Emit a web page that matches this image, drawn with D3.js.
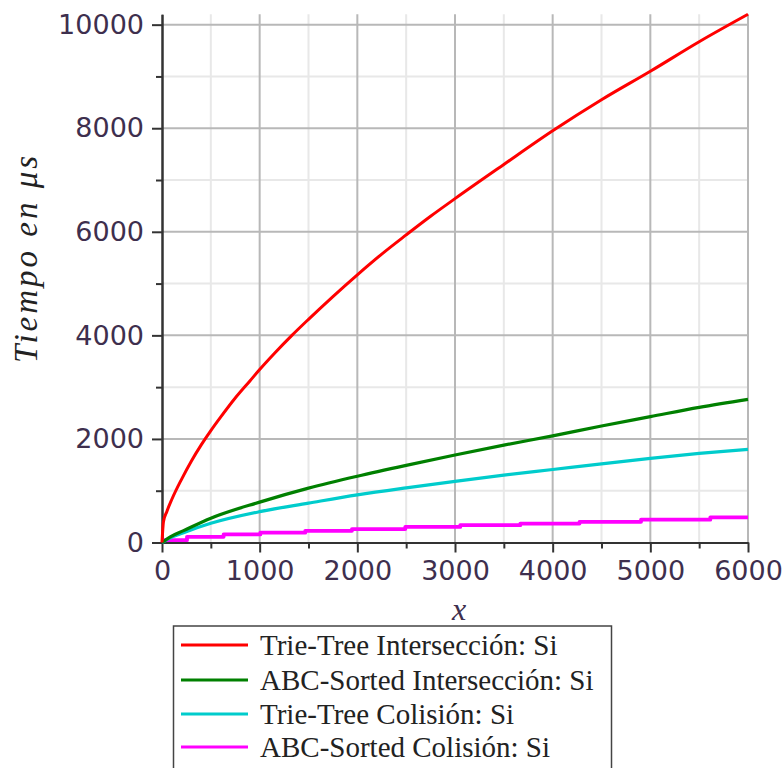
<!DOCTYPE html>
<html lang="es">
<head>
<meta charset="UTF-8">
<title>Tiempo en us</title>
<style>
  body { margin: 0; background: #fff; }
</style>
</head>
<body>
<svg id="chart" width="784" height="768"></svg>
<script src="https://d3js.org/d3.v7.min.js"></script>
<script>
  // tick values
  const xMajor = [0, 1000, 2000, 3000, 4000, 5000, 6000];
  const xMinor = [500, 1500, 2500, 3500, 4500, 5500];
  const yMajor = [0, 2000, 4000, 6000, 8000, 10000];
  const yMinor = [1000, 3000, 5000, 7000, 9000];

  // series
  const xRed = [0, 15, 50, 100, 200, 300, 400, 500, 600, 750, 900, 1000, 1150, 1330, 1500, 1750, 2000, 2250, 2500, 2750, 3000, 3500, 4000, 4500, 5000, 5500, 6000];
  const yRed = [0, 400, 600, 830, 1220, 1570, 1880, 2160, 2420, 2790, 3120, 3340, 3650, 4000, 4310, 4750, 5170, 5570, 5940, 6300, 6640, 7300, 7950, 8550, 9100, 9670, 10200];

  const xGreen = [0, 85, 221, 500, 1000, 1500, 2000, 2500, 3000, 3500, 4000, 4500, 5000, 5500, 6000];
  const yGreen = [0, 110, 230, 470, 780, 1050, 1280, 1490, 1690, 1880, 2060, 2250, 2430, 2610, 2765];

  const xCyan = [0, 85, 221, 500, 1000, 1500, 2000, 2500, 3000, 3500, 4000, 4500, 5000, 5500, 6000];
  const yCyan = [0, 90, 190, 370, 595, 760, 920, 1055, 1180, 1300, 1410, 1520, 1625, 1720, 1800];

  // this one goes in steps
  const xMag = [0, 256, 631, 1007, 1467, 1945, 2491, 3054, 3669, 4275, 4905, 5614, 6000];
  const yMag = [45, 110, 155, 190, 225, 260, 300, 335, 365, 400, 440, 485, 485];

  const names = ["Trie-Tree Intersección: Si", "ABC-Sorted Intersección: Si", "Trie-Tree Colisión: Si", "ABC-Sorted Colisión: Si"];
  const colors = ["#ff0000", "#008000", "#00cccc", "#ff00ff"];

  const svg = d3.select("#chart");
  const x = d3.scaleLinear().domain([0, 6000]).range([162, 748]);
  const y = d3.scaleLinear().domain([0, 10200]).range([542.5, 14.3]);

  // grid, minor first so the major lines sit on top
  const grid = svg.append("g");
  grid.selectAll(".vminor").data(xMinor).join("line")
    .attr("x1", d => x(d)).attr("x2", d => x(d))
    .attr("y1", y(0)).attr("y2", y(10200))
    .attr("stroke", "#e8e8e8").attr("stroke-width", 2);
  grid.selectAll(".hminor").data(yMinor).join("line")
    .attr("x1", x(0)).attr("x2", x(6000))
    .attr("y1", d => y(d)).attr("y2", d => y(d))
    .attr("stroke", "#e8e8e8").attr("stroke-width", 2);
  grid.selectAll(".vmajor").data(xMajor.slice(1)).join("line")
    .attr("x1", d => x(d)).attr("x2", d => x(d))
    .attr("y1", y(0)).attr("y2", y(10200))
    .attr("stroke", "#b8b8b8").attr("stroke-width", 2);
  grid.selectAll(".hmajor").data(yMajor.slice(1)).join("line")
    .attr("x1", x(0)).attr("x2", x(6000))
    .attr("y1", d => y(d)).attr("y2", d => y(d))
    .attr("stroke", "#b8b8b8").attr("stroke-width", 2);

  // axes
  const tickFont = "'DejaVu Sans', Verdana, sans-serif";
  const labelColor = "#3e2f4e";

  function styleAxis(g) {
    g.select(".domain").attr("stroke", "#333").attr("stroke-width", 2);
    g.selectAll(".tick line").attr("stroke", "#333").attr("stroke-width", 2);
    g.selectAll(".tick text").attr("fill", labelColor)
      .style("font-family", tickFont).style("font-size", "27px");
  }

  svg.append("g").attr("transform", `translate(0,${y(0)})`)
    .call(d3.axisBottom(x).tickValues(xMinor).tickSize(6).tickSizeOuter(0).tickFormat(""))
    .call(styleAxis);
  svg.append("g").attr("transform", `translate(${x(0)},0)`)
    .call(d3.axisLeft(y).tickValues(yMinor).tickSize(6).tickSizeOuter(0).tickFormat(""))
    .call(styleAxis);

  svg.append("g").attr("transform", `translate(0,${y(0)})`)
    .call(d3.axisBottom(x).tickValues(xMajor).tickSize(10).tickSizeOuter(0).tickPadding(8).tickFormat(d3.format("d")))
    .call(styleAxis);
  svg.append("g").attr("transform", `translate(${x(0)},0)`)
    .call(d3.axisLeft(y).tickValues(yMajor).tickSize(10).tickSizeOuter(0).tickPadding(8).tickFormat(d3.format("d")))
    .call(styleAxis);

  // curves
  const line = d3.line().x(d => x(d[0])).y(d => y(d[1])).curve(d3.curveMonotoneX);
  const stepLine = d3.line().x(d => x(d[0])).y(d => y(d[1])).curve(d3.curveStepAfter);

  const series = [
    { xs: xRed, ys: yRed, gen: line, w: 3 },
    { xs: xGreen, ys: yGreen, gen: line, w: 3.2 },
    { xs: xCyan, ys: yCyan, gen: line, w: 3.2 },
    { xs: xMag, ys: yMag, gen: stepLine, w: 3.8 }
  ];
  // magenta on the bottom, red last
  [3, 2, 1, 0].forEach(i => {
    const s = series[i];
    svg.append("path")
      .datum(s.xs.map((v, j) => [v, s.ys[j]]))
      .attr("d", s.gen)
      .attr("fill", "none")
      .attr("stroke", colors[i])
      .attr("stroke-width", s.w)
      .attr("stroke-linejoin", "round");
  });

  // axis titles
  svg.append("text")
    .attr("transform", "translate(37,258) rotate(-90)")
    .attr("text-anchor", "middle")
    .style("font-family", "'Liberation Serif', 'Times New Roman', serif")
    .style("font-style", "italic")
    .style("font-size", "33px")
    .style("letter-spacing", "3px")
    .attr("fill", "#222")
    .text("Tiempo en μs");

  svg.append("text")
    .attr("x", (x(0) + x(6000)) / 2 + 4).attr("y", 620)
    .attr("text-anchor", "middle")
    .style("font-family", "'Liberation Serif', 'Times New Roman', serif")
    .style("font-style", "italic")
    .style("font-size", "32px")
    .attr("fill", labelColor)
    .text("x");

  // legend
  const legend = svg.append("g");
  legend.append("rect")
    .attr("x", 173.5).attr("y", 626)
    .attr("width", 438).attr("height", 160)
    .attr("fill", "#fff").attr("stroke", "#444").attr("stroke-width", 1.5);

  const rowY = [645, 680, 714, 747];
  names.forEach((n, i) => {
    legend.append("line")
      .attr("x1", 181).attr("x2", 248)
      .attr("y1", rowY[i]).attr("y2", rowY[i])
      .attr("stroke", colors[i]).attr("stroke-width", 3.2);
    legend.append("text")
      .attr("x", 260).attr("y", rowY[i] + 10)
      .style("font-family", "'Liberation Serif', 'Times New Roman', serif")
      .style("font-size", "29px")
      .attr("fill", "#222")
      .text(n);
  });
</script>
</body>
</html>
